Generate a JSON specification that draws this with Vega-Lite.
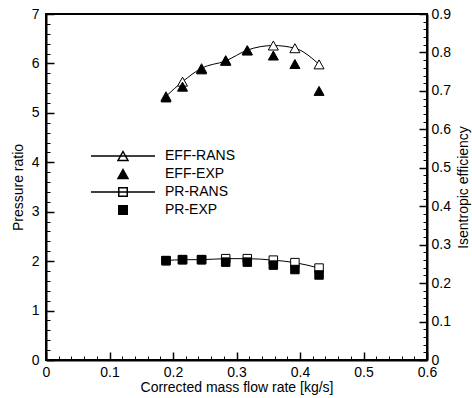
{
  "$schema": "https://vega.github.io/schema/vega-lite/v6.json",
  "width": 381,
  "height": 346,
  "autosize": {"type": "none"},
  "padding": {"left": 46, "top": 14, "right": 45, "bottom": 38},
  "background": "white",
  "config": {
    "font": "Liberation Sans",
    "view": {"stroke": "black", "strokeWidth": 2},
    "axis": {
      "labelColor": "black", "titleColor": "black", "domainColor": "black", "tickColor": "black",
      "labelFontSize": 14, "titleFontSize": 14, "titleFontWeight": "normal",
      "grid": false, "domainWidth": 2, "tickWidth": 1.5, "labelFlush": false
    },
    "legend": {"labelFontSize": 14, "labelColor": "black"}
  },
  "data": {
    "values": [
      {"series": "PR-RANS", "flow": 0.189, "value": 2.01},
      {"series": "PR-RANS", "flow": 0.215, "value": 2.03},
      {"series": "PR-RANS", "flow": 0.245, "value": 2.03},
      {"series": "PR-RANS", "flow": 0.283, "value": 2.05},
      {"series": "PR-RANS", "flow": 0.317, "value": 2.05},
      {"series": "PR-RANS", "flow": 0.358, "value": 2.02},
      {"series": "PR-RANS", "flow": 0.392, "value": 1.97},
      {"series": "PR-RANS", "flow": 0.430, "value": 1.86},
      {"series": "PR-EXP", "flow": 0.189, "value": 2.01},
      {"series": "PR-EXP", "flow": 0.215, "value": 2.03},
      {"series": "PR-EXP", "flow": 0.245, "value": 2.03},
      {"series": "PR-EXP", "flow": 0.283, "value": 1.98},
      {"series": "PR-EXP", "flow": 0.317, "value": 1.98},
      {"series": "PR-EXP", "flow": 0.358, "value": 1.92},
      {"series": "PR-EXP", "flow": 0.392, "value": 1.83},
      {"series": "PR-EXP", "flow": 0.430, "value": 1.72},
      {"series": "EFF-RANS", "flow": 0.189, "value": 0.686},
      {"series": "EFF-RANS", "flow": 0.215, "value": 0.724},
      {"series": "EFF-RANS", "flow": 0.245, "value": 0.759},
      {"series": "EFF-RANS", "flow": 0.283, "value": 0.778},
      {"series": "EFF-RANS", "flow": 0.317, "value": 0.806},
      {"series": "EFF-RANS", "flow": 0.358, "value": 0.818},
      {"series": "EFF-RANS", "flow": 0.392, "value": 0.811},
      {"series": "EFF-RANS", "flow": 0.430, "value": 0.769},
      {"series": "EFF-EXP", "flow": 0.189, "value": 0.683},
      {"series": "EFF-EXP", "flow": 0.215, "value": 0.711},
      {"series": "EFF-EXP", "flow": 0.245, "value": 0.756},
      {"series": "EFF-EXP", "flow": 0.283, "value": 0.780},
      {"series": "EFF-EXP", "flow": 0.317, "value": 0.805},
      {"series": "EFF-EXP", "flow": 0.358, "value": 0.792},
      {"series": "EFF-EXP", "flow": 0.392, "value": 0.770},
      {"series": "EFF-EXP", "flow": 0.430, "value": 0.700}
    ]
  },
  "resolve": {"scale": {"y": "independent"}, "axis": {"x": "independent", "y": "independent"}},
  "layer": [
    {
      "transform": [{"filter": "datum.series == 'PR-RANS'"}],
      "mark": {"type": "line", "color": "black", "strokeWidth": 1, "interpolate": "monotone"},
      "encoding": {
        "x": {"field": "flow", "type": "quantitative", "scale": {"domain": [0, 0.6], "nice": false, "zero": false},
          "axis": {"orient": "bottom", "values": [0, 0.1, 0.2, 0.3, 0.4, 0.5, 0.6], "format": "~g", "ticks": false, "labelPadding": 5, "title": "Corrected mass flow rate [kg/s]", "titleX": 190.5, "titleY": 27, "titleAlign": "center", "titleBaseline": "middle"}},
        "y": {"field": "value", "type": "quantitative", "scale": {"domain": [0, 7], "nice": false, "zero": false},
          "axis": {"orient": "left", "values": [0, 1, 2, 3, 4, 5, 6, 7], "ticks": false, "labelPadding": 7, "title": "Pressure ratio", "titleX": -28, "titleY": 173, "titleAngle": -90, "titleAlign": "center", "titleBaseline": "middle"}}
      }
    },
    {
      "transform": [{"filter": "datum.series == 'EFF-RANS'"}],
      "mark": {"type": "line", "color": "black", "strokeWidth": 1, "interpolate": "monotone"},
      "encoding": {
        "x": {"field": "flow", "type": "quantitative", "scale": {"domain": [0, 0.6], "nice": false, "zero": false},
          "axis": {"orient": "bottom", "values": [0, 0.1, 0.2, 0.3, 0.4, 0.5, 0.6], "offset": -8, "tickSize": 8, "labels": false, "domain": false, "title": null, "zindex": 2}},
        "y": {"field": "value", "type": "quantitative", "scale": {"domain": [0, 0.9], "nice": false, "zero": false},
          "axis": {"orient": "right", "values": [0, 0.1, 0.2, 0.3, 0.4, 0.5, 0.6, 0.7, 0.8, 0.9], "format": "~g", "ticks": false, "labelPadding": 4, "title": "Isentropic efficiency", "titleX": 36, "titleY": 173, "titleAngle": -90, "titleAlign": "center", "titleBaseline": "middle"}}
      }
    },
    {
      "transform": [{"filter": "datum.series == 'PR-RANS' || datum.series == 'PR-EXP'"}],
      "mark": {"type": "point", "size": 100, "stroke": "black", "strokeWidth": 1, "opacity": 1, "shape": "M-0.85,-0.85H0.85V0.85H-0.85Z"},
      "encoding": {
        "x": {"field": "flow", "type": "quantitative", "scale": {"domain": [0, 0.6], "nice": false, "zero": false},
          "axis": {"orient": "bottom", "values": [0.02, 0.04, 0.06, 0.08, 0.12, 0.14, 0.16, 0.18, 0.22, 0.24, 0.26, 0.28, 0.32, 0.34, 0.36, 0.38, 0.42, 0.44, 0.46, 0.48, 0.52, 0.54, 0.56, 0.58], "offset": -4, "tickSize": 4, "tickWidth": 1, "labels": false, "domain": false, "title": null, "zindex": 2}},
        "y": {"field": "value", "type": "quantitative", "scale": {"domain": [0, 7], "nice": false, "zero": false},
          "axis": {"orient": "left", "values": [0, 1, 2, 3, 4, 5, 6, 7], "offset": -8, "tickSize": 8, "labels": false, "domain": false, "title": null, "zindex": 2}},
        "fill": {"field": "series", "type": "nominal", "title": null,
          "scale": {"domain": ["EFF-RANS", "EFF-EXP", "PR-RANS", "PR-EXP"], "range": ["white", "black", "white", "black"]},
          "legend": {"orient": "none", "legendX": 70, "legendY": 135, "padding": 0, "symbolSize": 100, "labelOffset": 35, "rowPadding": 2}}
      }
    },
    {
      "transform": [{"filter": "datum.series == 'EFF-RANS' || datum.series == 'EFF-EXP'"}],
      "mark": {"type": "point", "size": 100, "stroke": "black", "strokeWidth": 1, "opacity": 1, "shape": "M0,-0.9L1,0.9L-1,0.9Z"},
      "encoding": {
        "x": {"field": "flow", "type": "quantitative", "scale": {"domain": [0, 0.6], "nice": false, "zero": false}, "axis": null},
        "y": {"field": "value", "type": "quantitative", "scale": {"domain": [0, 0.9], "nice": false, "zero": false},
          "axis": {"orient": "right", "values": [0, 0.1, 0.2, 0.3, 0.4, 0.5, 0.6, 0.7, 0.8, 0.9], "offset": -8, "tickSize": 8, "labels": false, "domain": false, "title": null, "zindex": 2}},
        "fill": {"field": "series", "type": "nominal", "title": null}
      }
    },
    {
      "transform": [{"filter": "datum.series == 'none'"}],
      "mark": {"type": "point", "size": 100, "stroke": "black", "strokeWidth": 1, "opacity": 1},
      "encoding": {
        "x": {"field": "flow", "type": "quantitative", "scale": {"domain": [0, 0.6], "nice": false, "zero": false}, "axis": null},
        "y": {"field": "value", "type": "quantitative", "scale": {"domain": [0, 7], "nice": false, "zero": false},
          "axis": {"orient": "left", "values": [0.2, 0.4, 0.6, 0.8, 1.2, 1.4, 1.6, 1.8, 2.2, 2.4, 2.6, 2.8, 3.2, 3.4, 3.6, 3.8, 4.2, 4.4, 4.6, 4.8, 5.2, 5.4, 5.6, 5.8, 6.2, 6.4, 6.6, 6.8], "offset": -4, "tickSize": 4, "tickWidth": 1, "labels": false, "domain": false, "title": null, "zindex": 2}},
        "shape": {"field": "series", "type": "nominal", "title": null,
          "scale": {"domain": ["EFF-RANS", "EFF-EXP", "PR-RANS", "PR-EXP"], "range": ["M-6.4,0H6.4M0,-0.9L1,0.9L-1,0.9Z", "M0,-0.9L1,0.9L-1,0.9Z", "M-6.4,0H6.4M-0.85,-0.85H0.85V0.85H-0.85Z", "M-0.85,-0.85H0.85V0.85H-0.85Z"]},
          "legend": {"orient": "none", "legendX": 70, "legendY": 135, "padding": 0, "symbolSize": 100, "labelOffset": 35, "rowPadding": 2}}
      }
    },
    {
      "transform": [{"filter": "datum.series == 'EFF-RANS'"}],
      "mark": {"type": "point", "opacity": 0},
      "encoding": {
        "x": {"field": "flow", "type": "quantitative", "scale": {"domain": [0, 0.6], "nice": false, "zero": false}, "axis": null},
        "y": {"field": "value", "type": "quantitative", "scale": {"domain": [0, 0.9], "nice": false, "zero": false},
          "axis": {"orient": "right", "values": [0.02, 0.04, 0.06, 0.08, 0.12, 0.14, 0.16, 0.18, 0.22, 0.24, 0.26, 0.28, 0.32, 0.34, 0.36, 0.38, 0.42, 0.44, 0.46, 0.48, 0.52, 0.54, 0.56, 0.58, 0.62, 0.64, 0.66, 0.68, 0.72, 0.74, 0.76, 0.78, 0.82, 0.84, 0.86, 0.88], "offset": -4, "tickSize": 4, "tickWidth": 1, "labels": false, "domain": false, "title": null, "zindex": 2}}
      }
    }
  ]
}
